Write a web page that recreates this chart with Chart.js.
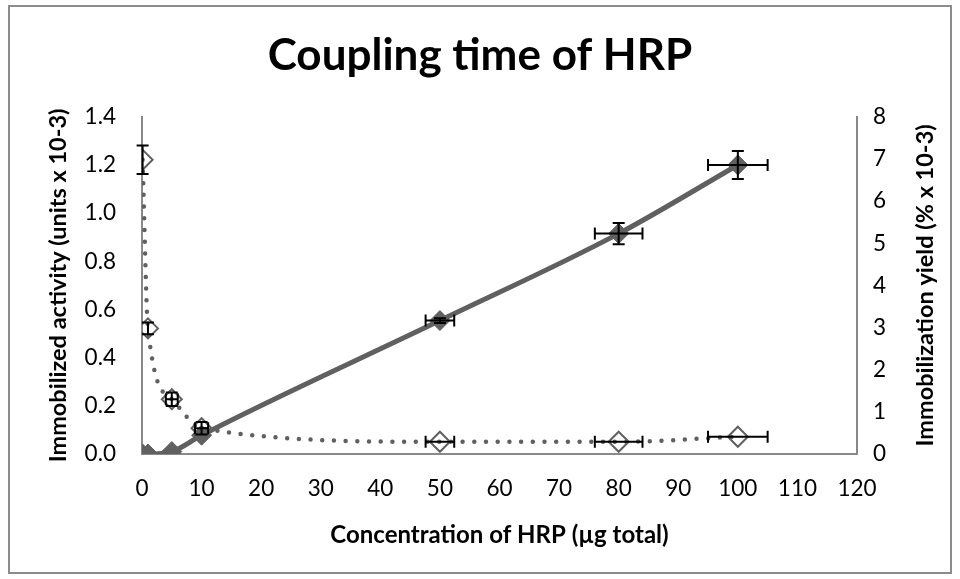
<!DOCTYPE html>
<html>
<head>
<meta charset="utf-8">
<script src="https://cdn.jsdelivr.net/npm/chart.js@4"></script>
<style>
  html, body { margin: 0; padding: 0; background: #fff; }
  #wrap { width: 960px; height: 579px; position: relative; }
</style>
</head>
<body>
<div id="wrap"><canvas id="c" width="960" height="579"></canvas></div>
<script>
// ---- data ----
const concentration = [0.1, 1, 5, 10, 50, 80, 100];          // µg total
const activity      = [0, 0, 0.01, 0.078, 0.554, 0.915, 1.2]; // units x 10-3
const activityErrX  = [0, 0, 0, 0, 2.4, 4, 5];
const activityErrY  = [0, 0, 0, 0, 0.01, 0.044, 0.058];
const yieldPct      = [6.98, 2.98, 1.3, 0.61, 0.29, 0.29, 0.41]; // % x 10-3
const yieldErrX     = [0, 0, 1, 1.1, 2.4, 4, 5];
const yieldErrY     = [0.34, 0.14, 0.16, 0.15, 0, 0, 0];
const xTicks = [0, 10, 20, 30, 40, 50, 60, 70, 80, 90, 100, 110, 120];
const leftTicks  = [0, 0.2, 0.4, 0.6, 0.8, 1.0, 1.2, 1.4];
const rightTicks = [0, 1, 2, 3, 4, 5, 6, 7, 8];

const titleText = 'Coupling time of HRP';
const xTitle = 'Concentration of HRP (µg total)';
const yTitle = 'Immobilized activity (units x 10-3)';
const y1Title = 'Immobilization yield (% x 10-3)';

const FONT = "Lato, 'Open Sans', 'DejaVu Sans', sans-serif";
const GREY = '#606060';
const AXIS = '#898989';

Chart.defaults.color = '#000';
Chart.defaults.font.family = FONT;

const toPts = (xs, ys) => xs.map((x, i) => ({x: x, y: ys[i]}));

const errorBars = {
  id: 'errorBars',
  afterDatasetsDraw(chart) {
    const ctx = chart.ctx;
    const xs = chart.scales.x;
    const cap = 6;
    ctx.save();
    ctx.strokeStyle = '#000';
    ctx.lineWidth = 2;
    chart.data.datasets.forEach(ds => {
      const ys = chart.scales[ds.yAxisID];
      ds.data.forEach((p, i) => {
        const px = xs.getPixelForValue(p.x);
        const py = ys.getPixelForValue(p.y);
        const ex = ds.errX[i], ey = ds.errY[i];
        if (ex > 0) {
          const l = xs.getPixelForValue(p.x - ex), r = xs.getPixelForValue(p.x + ex);
          ctx.beginPath();
          ctx.moveTo(l, py); ctx.lineTo(r, py);
          ctx.moveTo(l, py - cap); ctx.lineTo(l, py + cap);
          ctx.moveTo(r, py - cap); ctx.lineTo(r, py + cap);
          ctx.stroke();
        }
        if (ey > 0) {
          const t = ys.getPixelForValue(p.y + ey), b = ys.getPixelForValue(p.y - ey);
          ctx.beginPath();
          ctx.moveTo(px, t); ctx.lineTo(px, b);
          ctx.moveTo(px - cap, t); ctx.lineTo(px + cap, t);
          ctx.moveTo(px - cap, b); ctx.lineTo(px + cap, b);
          ctx.stroke();
        }
      });
    });
    ctx.restore();
  }
};

const decor = {
  id: 'decor',
  afterDraw(chart) {
    const ctx = chart.ctx;
    const ca = chart.chartArea;
    ctx.save();
    // outer border
    ctx.strokeStyle = '#8c8c8c';
    ctx.lineWidth = 2;
    ctx.strokeRect(9, 6, 942, 567);
    // right axis title, reading bottom-to-top
    ctx.fillStyle = '#000';
    ctx.font = "bold 23.5px " + FONT;
    ctx.textAlign = 'center';
    ctx.textBaseline = 'middle';
    ctx.translate(925, (ca.top + ca.bottom) / 2);
    ctx.rotate(-Math.PI / 2);
    ctx.fillText(y1Title, 0, 0);
    ctx.restore();
  }
};

new Chart(document.getElementById('c'), {
  type: 'scatter',
  data: {
    datasets: [
      {
        label: 'Immobilized activity',
        data: toPts(concentration, activity),
        errX: activityErrX, errY: activityErrY,
        yAxisID: 'y',
        showLine: true,
        borderColor: GREY,
        borderWidth: 5,
        cubicInterpolationMode: 'monotone',
        pointStyle: 'rectRot',
        pointRadius: 10,
        pointHoverRadius: 10,
        pointBackgroundColor: GREY,
        pointBorderColor: GREY,
        pointBorderWidth: 1,
        order: 1
      },
      {
        label: 'Immobilization yield',
        data: toPts(concentration, yieldPct),
        errX: yieldErrX, errY: yieldErrY,
        yAxisID: 'y1',
        showLine: true,
        borderColor: GREY,
        borderWidth: 4.5,
        borderDash: [0, 11.7],
        borderCapStyle: 'round',
        cubicInterpolationMode: 'monotone',
        pointStyle: 'rectRot',
        pointRadius: 10,
        pointHoverRadius: 10,
        pointBackgroundColor: 'rgba(255,255,255,0)',
        pointBorderColor: GREY,
        pointBorderWidth: 2,
        order: 2
      }
    ]
  },
  options: {
    responsive: false,
    animation: false,
    events: [],
    layout: { padding: 0 },
    plugins: {
      legend: { display: false },
      tooltip: { enabled: false },
      title: {
        display: true,
        text: titleText,
        font: { size: 44, weight: 'bold', family: FONT, lineHeight: 1.2 },
        color: '#000',
        padding: { top: 29, bottom: 35 }
      }
    },
    scales: {
      x: {
        type: 'linear',
        min: 0, max: 120,
        afterBuildTicks(s) { s.ticks = xTicks.map(v => ({value: v})); },
        afterFit(s) { s.height = 125; },
        grid: { display: false, drawTicks: false },
        border: { display: true, color: AXIS, width: 2 },
        ticks: { font: { size: 22.5 }, padding: 21, maxRotation: 0, autoSkip: false },
        title: { display: true, text: xTitle, font: { size: 24, weight: 'bold' }, padding: { bottom: 29 } }
      },
      y: {
        type: 'linear',
        position: 'left',
        min: 0, max: 1.4,
        afterBuildTicks(s) { s.ticks = leftTicks.map(v => ({value: v})); },
        afterFit(s) { s.width = 142; },
        grid: { display: false, drawTicks: false },
        border: { display: true, color: AXIS, width: 2 },
        ticks: { font: { size: 22.5 }, padding: 26, autoSkip: false, callback: v => v.toFixed(1) },
        title: { display: true, text: yTitle, font: { size: 23.5, weight: 'bold' }, padding: { top: 44 } }
      },
      y1: {
        type: 'linear',
        position: 'right',
        min: 0, max: 8,
        afterBuildTicks(s) { s.ticks = rightTicks.map(v => ({value: v})); },
        afterFit(s) { s.width = 103; },
        grid: { display: false, drawTicks: false },
        border: { display: true, color: AXIS, width: 2 },
        ticks: { font: { size: 22.5 }, padding: 16, autoSkip: false, callback: v => String(v) },
        title: { display: false }
      }
    }
  },
  plugins: [errorBars, decor]
});
</script>
</body>
</html>
